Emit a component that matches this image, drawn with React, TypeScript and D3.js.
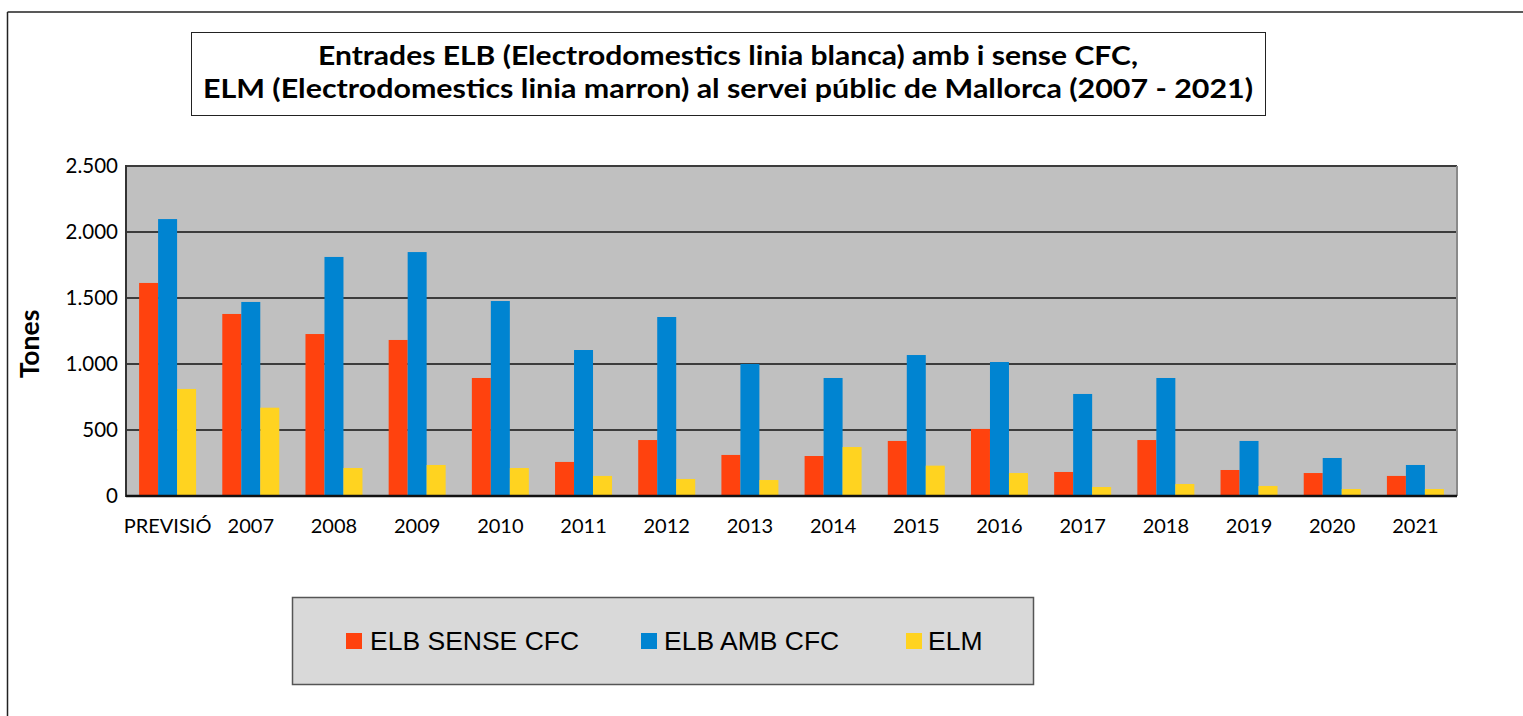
import React from "react";
import * as d3 from "d3";

const categories = ["PREVISIÓ", "2007", "2008", "2009", "2010", "2011", "2012", "2013", "2014", "2015", "2016", "2017", "2018", "2019", "2020", "2021"];
const elbSenseCfc = [1614, 1379, 1227, 1182, 894, 258, 424, 311, 303, 417, 508, 182, 424, 197, 174, 152];
const elbAmbCfc = [2098, 1470, 1811, 1848, 1477, 1106, 1356, 1000, 894, 1068, 1015, 773, 894, 417, 288, 235];
const elm = [811, 669, 212, 235, 212, 152, 129, 121, 371, 230, 174, 68, 91, 76, 53, 53];
const yTicks = [0, 500, 1000, 1500, 2000, 2500];
const seriesNames = ["ELB SENSE CFC", "ELB AMB CFC", "ELM"];
const seriesColors = ["#ff420e", "#0084d1", "#ffd320"];
const titleLines = [
  "Entrades ELB (Electrodomestics linia blanca) amb i sense CFC,",
  "ELM (Electrodomestics linia marron) al servei públic de Mallorca (2007 - 2021)",
];
const yAxisTitle = "Tones";

const W = 1523;
const H = 716;
const plot = { left: 126, right: 1457, top: 166, bottom: 496 };

const fmt = (v: number) => d3.format(",")(v).replace(/,/g, ".");

export default function App() {
  const x = d3.scaleBand<string>().domain(categories).range([plot.left, plot.right]).paddingInner(0.315).paddingOuter(0.1575);
  const inner = d3.scaleBand<string>().domain(seriesNames).range([0, x.bandwidth()]);
  const y = d3.scaleLinear().domain([0, 2500]).range([plot.bottom, plot.top]);
  const series = [elbSenseCfc, elbAmbCfc, elm];
  const calibri = "Lato, 'Open Sans', sans-serif";
  const legendItems = [
    { sx: 346, tx: 370 },
    { sx: 641, tx: 664 },
    { sx: 906, tx: 928 },
  ];

  return (
    <svg width={W} height={H} style={{ position: "absolute", left: 0, top: 0, background: "#fff" }}>
      {/* outer frame */}
      <line x1={7.5} y1={12} x2={7.5} y2={H} stroke="#222" strokeWidth={1.5} />
      <line x1={7.5} y1={12} x2={W} y2={12} stroke="#222" strokeWidth={1.5} />

      {/* title box */}
      <rect x={191.5} y={32.5} width={1074} height={83} fill="#fff" stroke="#222" strokeWidth={1} />
      {titleLines.map((t, i) => (
        <text
          key={i}
          x={728}
          y={i === 0 ? 65 : 98}
          textAnchor="middle"
          fontFamily={calibri}
          fontWeight={700}
          fontSize={26}
          fill="#000"
          textLength={i === 0 ? 820 : 1050}
          lengthAdjust="spacingAndGlyphs"
        >
          {t}
        </text>
      ))}

      {/* plot background */}
      <rect x={plot.left} y={plot.top} width={plot.right - plot.left} height={plot.bottom - plot.top} fill="#c0c0c0" />
      {/* gridlines */}
      {yTicks.map((t) => (
        <line key={t} x1={plot.left} x2={plot.right} y1={y(t)} y2={y(t)} stroke="#3c3c3c" strokeWidth={2} />
      ))}
      {/* right border */}
      <line x1={plot.right} x2={plot.right} y1={plot.top} y2={plot.bottom} stroke="#8a8a8a" strokeWidth={2} />

      {/* bars */}
      {series.map((vals, si) =>
        vals.map((v, ci) => (
          <rect
            key={`${si}-${ci}`}
            x={(x(categories[ci]) as number) + (inner(seriesNames[si]) as number)}
            y={y(v)}
            width={inner.bandwidth()}
            height={y(0) - y(v)}
            fill={seriesColors[si]}
          />
        ))
      )}

      {/* axes */}
      <line x1={plot.left} x2={plot.left} y1={plot.top - 1} y2={plot.bottom + 1} stroke="#333" strokeWidth={2} />
      <line x1={plot.left} x2={plot.right} y1={plot.bottom} y2={plot.bottom} stroke="#111" strokeWidth={2.5} />

      {/* y ticks */}
      {yTicks.map((t) => (
        <text key={t} x={118} y={y(t)} dy="0.35em" textAnchor="end" fontFamily={calibri} fontSize={20.5} fill="#000">
          {fmt(t)}
        </text>
      ))}
      {/* x labels */}
      {categories.map((c) => (
        <text key={c} x={(x(c) as number) + x.bandwidth() / 2} y={533} textAnchor="middle" fontFamily={calibri} fontSize={20} fill="#000">
          {c}
        </text>
      ))}

      {/* y axis title */}
      <text transform="translate(39,344) rotate(-90)" textAnchor="middle" fontFamily={calibri} fontWeight={700} fontSize={26.5} fill="#000">
        {yAxisTitle}
      </text>

      {/* legend */}
      <rect x={292.5} y={597.5} width={741} height={87} fill="#d9d9d9" stroke="#555" strokeWidth={1.5} />
      {seriesNames.map((n, i) => (
        <g key={n}>
          <rect x={legendItems[i].sx} y={633} width={16} height={16} fill={seriesColors[i]} />
          <text x={legendItems[i].tx} y={650} fontFamily="'Liberation Sans', Arial, sans-serif" fontSize={26.5} fill="#000">
            {n}
          </text>
        </g>
      ))}
    </svg>
  );
}
